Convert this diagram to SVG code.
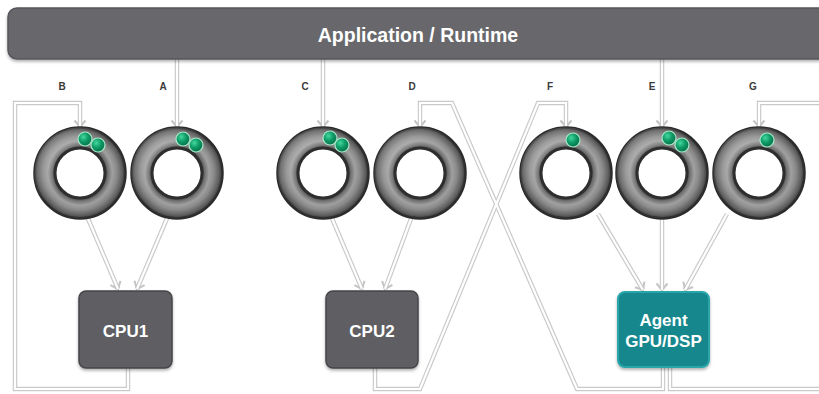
<svg xmlns="http://www.w3.org/2000/svg" xmlns:xlink="http://www.w3.org/1999/xlink" width="819" height="394" viewBox="0 0 819 394">
  <style>
    .wire { fill: none; stroke: #c9c9c9; stroke-width: 4.5; stroke-linejoin: miter; }
    .core { fill: none; stroke: #ffffff; stroke-width: 2.2; stroke-linejoin: miter; }
    .lbl { font-family: "Liberation Sans", Arial, sans-serif; font-weight: bold; font-size: 10px; fill: #3a3a3a; text-anchor: middle; }
    .boxtxt { font-family: "Liberation Sans", Arial, sans-serif; font-weight: bold; font-size: 17px; fill: #ffffff; text-anchor: middle; }
    .cpu { fill: #5f5e63; stroke: #47464a; stroke-width: 1.5; }
    .agent { fill: #13878d; stroke: #2aa6aa; stroke-width: 2; }
    .ball { fill: url(#ballFill); stroke: #a8e8c8; stroke-width: 1.2; }
  </style>
  <defs>
    <radialGradient id="torus" cx="0" cy="0" r="46" gradientUnits="userSpaceOnUse">
      <stop offset="0.54" stop-color="#2c2c2c"/>
      <stop offset="0.6" stop-color="#6a6a6a"/>
      <stop offset="0.7" stop-color="#a0a0a0"/>
      <stop offset="0.8" stop-color="#8a8a8a"/>
      <stop offset="0.92" stop-color="#5c5c5c"/>
      <stop offset="1" stop-color="#2a2a2a"/>
    </radialGradient>
    <linearGradient id="gleam" x1="0" y1="0" x2="1" y2="1">
      <stop offset="0" stop-color="#ffffff" stop-opacity="0.28"/>
      <stop offset="0.5" stop-color="#ffffff" stop-opacity="0"/>
      <stop offset="1" stop-color="#000000" stop-opacity="0.12"/>
    </linearGradient>
    <radialGradient id="ballFill" cx="0.38" cy="0.35" r="0.7">
      <stop offset="0" stop-color="#44d89e"/>
      <stop offset="0.5" stop-color="#0e9a66"/>
      <stop offset="1" stop-color="#066e48"/>
    </radialGradient>
    <filter id="shadow" x="-20%" y="-20%" width="140%" height="150%">
      <feDropShadow dx="0" dy="2" stdDeviation="1.5" flood-color="#000000" flood-opacity="0.3"/>
    </filter>
    <marker id="vee" viewBox="-8 -7 10 14" markerWidth="10" markerHeight="14" refX="0" refY="0" orient="auto" markerUnits="userSpaceOnUse">
      <path d="M-6.5,-5.5 L0,0 L-6.5,5.5" fill="none" stroke="#c4c4c4" stroke-width="2"/>
    </marker>
    <g id="ring">
      <circle r="45.5" fill="url(#torus)" stroke="#2b2b2b" stroke-width="2.5"/>
      <circle r="45.5" fill="url(#gleam)"/>
      <circle r="25" fill="#ffffff" stroke="#2e2e2e" stroke-width="3"/>
    </g>
    <!-- connector routes -->
    <path id="pB" d="M128,368 V389 H15 V103 H80 V127"/>
    <path id="pA" d="M177,59 V127"/>
    <path id="pC" d="M323,59 V127"/>
    <path id="pD" d="M663,368 V389 H577 L452,103 H420 V127"/>
    <path id="pF" d="M375,368 V389 H420 L538,103 H566 V127"/>
    <path id="pE" d="M662,59 V127"/>
    <path id="pG" d="M670,368 V389 H840 V103 H759 V127"/>
    <path id="q1" d="M86,214 L118,289"/>
    <path id="q2" d="M168,216 L137,289"/>
    <path id="q3" d="M331,216 L362,289"/>
    <path id="q4" d="M412,216 L385,289"/>
    <path id="q5" d="M598,214 L643,290"/>
    <path id="q6" d="M662,219 V290"/>
    <path id="q7" d="M727,214 L685,290"/>
  </defs>

  <rect width="819" height="394" fill="#ffffff"/>

  <!-- connectors -->
  <g id="connectors">
    <use xlink:href="#pB" class="wire" marker-end="url(#vee)"/>
    <use xlink:href="#pA" class="wire" marker-end="url(#vee)"/>
    <use xlink:href="#pC" class="wire" marker-end="url(#vee)"/>
    <use xlink:href="#pD" class="wire" marker-end="url(#vee)"/>
    <use xlink:href="#pF" class="wire" marker-end="url(#vee)"/>
    <use xlink:href="#pE" class="wire" marker-end="url(#vee)"/>
    <use xlink:href="#pG" class="wire" marker-end="url(#vee)"/>
    <use xlink:href="#q1" class="wire" marker-end="url(#vee)"/>
    <use xlink:href="#q2" class="wire" marker-end="url(#vee)"/>
    <use xlink:href="#q3" class="wire" marker-end="url(#vee)"/>
    <use xlink:href="#q4" class="wire" marker-end="url(#vee)"/>
    <use xlink:href="#q5" class="wire" marker-end="url(#vee)"/>
    <use xlink:href="#q6" class="wire" marker-end="url(#vee)"/>
    <use xlink:href="#q7" class="wire" marker-end="url(#vee)"/>
    <use xlink:href="#pB" class="core"/>
    <use xlink:href="#pA" class="core"/>
    <use xlink:href="#pC" class="core"/>
    <use xlink:href="#pD" class="core"/>
    <use xlink:href="#pF" class="core"/>
    <use xlink:href="#pE" class="core"/>
    <use xlink:href="#pG" class="core"/>
    <use xlink:href="#q1" class="core"/>
    <use xlink:href="#q2" class="core"/>
    <use xlink:href="#q3" class="core"/>
    <use xlink:href="#q4" class="core"/>
    <use xlink:href="#q5" class="core"/>
    <use xlink:href="#q6" class="core"/>
    <use xlink:href="#q7" class="core"/>
    <text class="lbl" x="62" y="90">B</text>
    <text class="lbl" x="163" y="90">A</text>
    <text class="lbl" x="305" y="90">C</text>
    <text class="lbl" x="412" y="90">D</text>
    <text class="lbl" x="550" y="90">F</text>
    <text class="lbl" x="652" y="90">E</text>
    <text class="lbl" x="753" y="90">G</text>
  </g>

  <!-- runtime bar -->
  <g id="runtime">
    <rect x="8" y="8" width="830" height="51" rx="9" fill="#68676c" stroke="#58575b" stroke-width="1.5" filter="url(#shadow)"/>
    <text class="boxtxt" x="418" y="42" style="font-size:19.5px">Application / Runtime</text>
  </g>

  <!-- queues -->
  <g id="queue-B">
    <use xlink:href="#ring" x="80" y="173"/>
    <circle class="ball" cx="85" cy="139" r="7"/>
    <circle class="ball" cx="98" cy="145" r="7"/>
  </g>
  <g id="queue-A">
    <use xlink:href="#ring" x="177" y="173"/>
    <circle class="ball" cx="183" cy="139" r="7"/>
    <circle class="ball" cx="196" cy="145" r="7"/>
  </g>
  <g id="queue-C">
    <use xlink:href="#ring" x="323" y="173"/>
    <circle class="ball" cx="330" cy="138" r="7"/>
    <circle class="ball" cx="342" cy="145" r="7"/>
  </g>
  <g id="queue-D">
    <use xlink:href="#ring" x="420" y="173"/>
  </g>
  <g id="queue-F">
    <use xlink:href="#ring" x="566" y="173"/>
    <circle class="ball" cx="573" cy="140" r="7"/>
  </g>
  <g id="queue-E">
    <use xlink:href="#ring" x="662" y="173"/>
    <circle class="ball" cx="669" cy="138" r="7"/>
    <circle class="ball" cx="682" cy="145" r="7"/>
  </g>
  <g id="queue-G">
    <use xlink:href="#ring" x="759" y="173"/>
    <circle class="ball" cx="767" cy="140" r="7"/>
  </g>

  <!-- processors -->
  <g id="cpu1">
    <rect class="cpu" x="79" y="291" width="93" height="77" rx="7" filter="url(#shadow)"/>
    <text class="boxtxt" x="125.5" y="337">CPU1</text>
  </g>
  <g id="cpu2">
    <rect class="cpu" x="326" y="291" width="92" height="77" rx="7" filter="url(#shadow)"/>
    <text class="boxtxt" x="372" y="337">CPU2</text>
  </g>
  <g id="agent">
    <rect class="agent" x="618" y="292" width="91" height="75" rx="7" filter="url(#shadow)"/>
    <text class="boxtxt" x="663.5" y="326">Agent</text>
    <text class="boxtxt" x="663.5" y="347">GPU/DSP</text>
  </g>
</svg>
